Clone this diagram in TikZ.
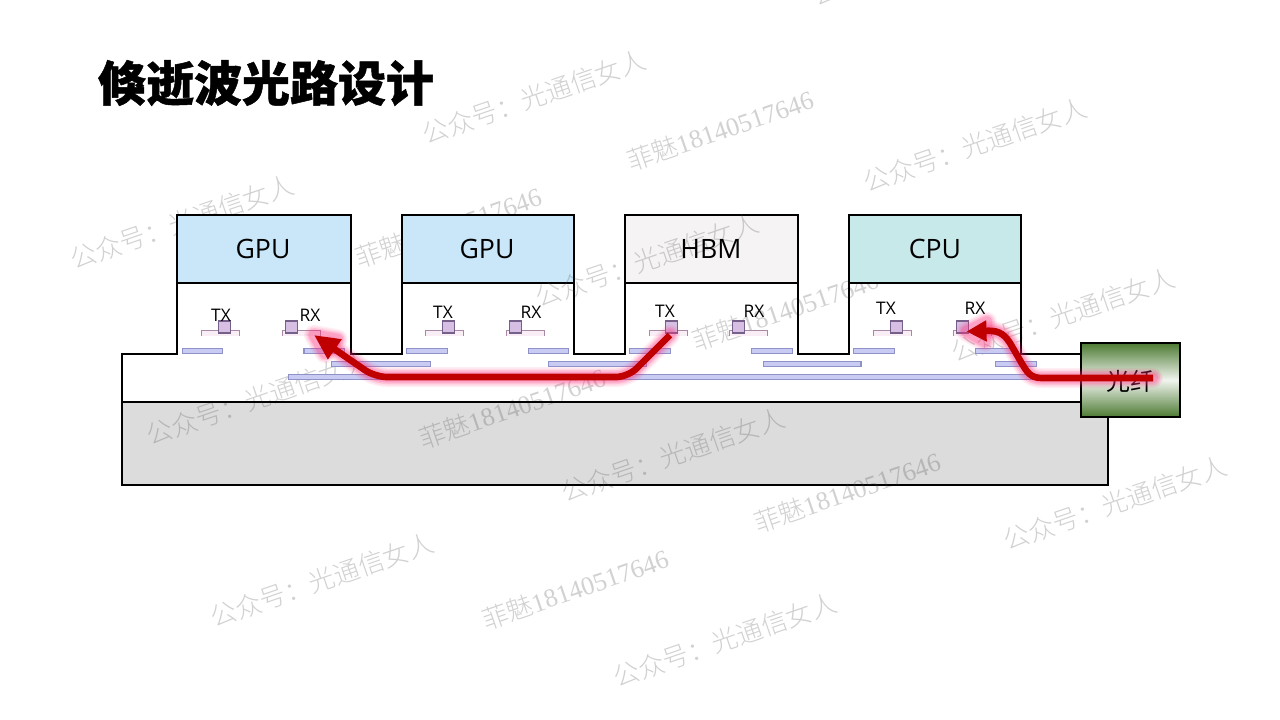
\documentclass[tikz,border=0pt]{standalone}
\usepackage{fontspec}
\setmainfont{Open Sans}
\newfontfamily\cjk{Noto Sans CJK SC}[BoldFeatures={FakeBold=1}]
\newfontfamily\wmfont{Noto Sans CJK SC Light}
\newfontfamily\wmlatin{Liberation Serif}
\usetikzlibrary{arrows.meta}
\definecolor{gpublue}{HTML}{C9E7F8}
\definecolor{hbmgrey}{HTML}{F5F3F3}
\definecolor{cputeal}{HTML}{C8E9E9}
\definecolor{basegrey}{HTML}{DCDCDC}
\definecolor{fibgreen}{HTML}{4C7A32}
\definecolor{arrred}{HTML}{C00000}
\definecolor{glowpink}{HTML}{FF2F7E}
\definecolor{barblue}{HTML}{C9CBF2}
\definecolor{baredge}{HTML}{8F92C8}
\definecolor{padpink}{HTML}{F9EDF6}
\definecolor{padedge}{HTML}{A88AA4}
\definecolor{sqfill}{HTML}{D6BFE2}
\definecolor{sqedge}{HTML}{75608A}
\tikzset{
  x=0.75pt,y=-0.75pt,
  outline/.style={draw=black,line width=1.2pt},
  chiptext/.style={font=\fontsize{20}{24}\selectfont,text=black},
  txrx/.style={font=\fontsize{13}{15}\selectfont,text=black,inner sep=0pt},
  barshape/.style={fill=barblue,draw=baredge,line width=.8pt},
  padshape/.style={fill=padpink},
  padline/.style={draw=padedge,line width=.6pt},
  sqshape/.style={fill=sqfill,draw=sqedge,line width=.8pt},
  wm/.style={rotate=19,opacity=.24,text=black!75,inner sep=0pt,font=\fontsize{19.5}{24}\selectfont},
  glowline/.style={glowpink,line join=round,line cap=round},
}
\newcommand{\wmA}[3]{\node[wm] (#1) at (#2,#3) {\wmfont 公众号：光通信女人};}
\newcommand{\wmB}[3]{\node[wm] (#1) at (#2,#3) {\wmfont 菲魅\wmlatin 18140517646};}
\newcommand{\chipbox}[5]{\path[fill=#4,outline] (#2,215) rectangle (#3,283);}
\newcommand{\wgpad}[2]{%
  \path[padshape] (#1,330) rectangle ++(38,6);
  \path[padline] (#1,336) -- (#1,330) -- ++(38,0) -- ++(0,6);
  \path[sqshape] (#2,321) rectangle ++(12,12);
}
\newcommand{\wgbar}[3]{\path[barshape] (#1,#3) rectangle (#2,#3+5.4);}
\begin{document}
\begin{tikzpicture}
\useasboundingbox (0,0) rectangle (1280,719);
\fill[white] (0,0) rectangle (1280,719);
% title
\node[anchor=center,inner sep=0pt] (title) at (266,83) {\cjk\bfseries\fontsize{36}{40}\selectfont 倏逝波光路设计};
% substrate
\path[fill=basegrey,outline] (122,402) rectangle (1108,485);
% watermarks
\wmA{wa1}{182}{222}
\wmA{wa2}{534}{97}
\wmA{wa3}{975}{145}
\wmA{wa5}{1063}{315}
\wmA{wa6}{258}{398}
\wmA{wa7}{673}{455}
\wmA{wa8}{1115}{503}
\wmA{wa9}{322}{580}
\wmA{wa10}{725}{640}
\wmA{wa11}{924}{-41}
\wmB{wb1}{720}{130}
\wmB{wb2}{448}{227}
\wmB{wb3}{785}{310}
\wmB{wb4}{512}{408}
\wmB{wb5}{847}{492}
\wmB{wb6}{575}{589}
\path[outline] (1081,402) -- (122,402) -- (122,354) -- (177,354) -- (177,283) -- (351,283) -- (351,354) -- (402,354) -- (402,283) -- (574,283) -- (574,354) -- (625,354) -- (625,283) -- (798,283) -- (798,354) -- (849,354) -- (849,283) -- (1021,283) -- (1021,354) -- (1081,354);
% chips
\chipbox{}{177}{351}{gpublue}{}
\chipbox{}{402}{574}{gpublue}{}
\chipbox{}{625}{798}{hbmgrey}{}
\chipbox{}{849}{1021}{cputeal}{}
\wmA{wa4}{647}{260}
\node[chiptext] (gpua) at (263,249) {GPU};
\node[chiptext] (gpub) at (487,249) {GPU};
\node[chiptext] (hbm) at (711,249) {HBM};
\node[chiptext] (cpu) at (935,249) {CPU};
% waveguides
\wgbar{288.3}{1032}{374.3}
\wgbar{331.7}{430.7}{361.3}
\wgbar{548.7}{646.7}{361.3}
\wgbar{763.7}{861}{361.3}
\wgbar{995.3}{1036.7}{361.3}
\wgbar{182.3}{222.7}{348.3}
\wgbar{304}{344.3}{348.3}
\wgbar{406.3}{447.3}{348.3}
\wgbar{528.3}{568.7}{348.3}
\wgbar{629.3}{670.7}{348.3}
\wgbar{751.3}{792.3}{348.3}
\wgbar{853.7}{894.7}{348.3}
\wgbar{975.3}{1016.7}{348.3}
% pads
\wgpad{201.7}{218.3}
\wgpad{282.3}{285.3}
\wgpad{425.7}{442.3}
\wgpad{506.7}{509.3}
\wgpad{649.3}{665.7}
\wgpad{729.3}{732.3}
\wgpad{873.3}{890.3}
\wgpad{953.3}{956.7}
% TX / RX labels
\node[txrx] (tx1) at (221,315) {TX};
\node[txrx] (rx1) at (310,315) {RX};
\node[txrx] (tx2) at (443,312) {TX};
\node[txrx] (rx2) at (531,312) {RX};
\node[txrx] (tx3) at (665,311) {TX};
\node[txrx] (rx3) at (754,311) {RX};
\node[txrx] (tx4) at (886,308) {TX};
\node[txrx] (rx4) at (975,308) {RX};
% fibre
\path[top color=fibgreen,bottom color=fibgreen,middle color=white!92!fibgreen,draw=black,line width=1.4pt] (1081,343) rectangle (1180,417);
\node[inner sep=0pt] (fibre) at (1130,381) {\cjk\fontsize{18}{20}\selectfont 光纤};
% arrow coordinates
\coordinate (a1s) at (670,335);
\coordinate (a1b) at (628,377);
\coordinate (a1c) at (375,377);
\coordinate (a1e) at (329,345);
\coordinate (a1t) at (314,335);
\coordinate (a1l) at (337.7,339.3);
\coordinate (a1r) at (325,353.3);
\coordinate (a2s) at (1153,378);
\coordinate (a2b) at (1042,378);
\coordinate (a2p) at (1021,362);
\coordinate (a2q) at (1010,343);
\coordinate (a2e) at (984,331);
\coordinate (a2t) at (966.5,331.5);
\coordinate (a2l) at (986.7,321.7);
\coordinate (a2r) at (985,341.7);
% glow
\foreach \w/\o in {20/.08,17/.10,14/.14,11/.2}{
  \draw[glowline,opacity=\o,line width=\w*0.75pt,rounded corners=9pt]
    (a1s) -- (a1b) -- (a1c) -- (a1e);
  \draw[glowline,opacity=\o,line width=\w*0.75pt]
    (a1t) -- (a1l) -- (a1r) -- cycle;
  \draw[glowline,opacity=\o,line width=\w*0.75pt]
    (a2s) -- (a2b) .. controls (1030,378) and (1027,372) .. (a2p) -- (a2q) .. controls (1003,332) and (996,330) .. (a2e);
  \draw[glowline,opacity=\o,line width=\w*0.75pt]
    (a2t) -- (a2l) -- (a2r) -- cycle;
}
% arrows
\draw[arrred,line width=5pt,rounded corners=9pt,-{Triangle[length=19pt,width=17pt]}]
  (a1s) -- (a1b) -- (a1c) -- (a1t);
\draw[arrred,line width=5pt,-{Triangle[length=15pt,width=15pt]}]
  (a2s) -- (a2b) .. controls (1030,378) and (1027,372) .. (a2p) -- (a2q) .. controls (1003,332) and (996,330) .. (a2e) -- (a2t);
\end{tikzpicture}
\end{document}
